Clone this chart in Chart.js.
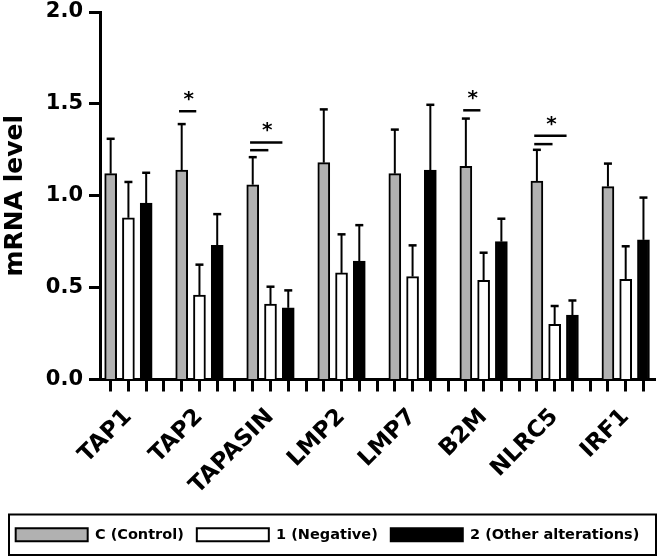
<!DOCTYPE html>
<html><head><meta charset="utf-8">
<script src="https://cdn.jsdelivr.net/npm/chart.js@4"></script>
<style>html,body{margin:0;padding:0;background:#fff}</style>
</head><body>
<canvas id="c" width="661" height="557"></canvas>
<script>
const genes = ['TAP1','TAP2','TAPASIN','LMP2','LMP7','B2M','NLRC5','IRF1'];
const seriesNames = ['C (Control)','1 (Negative)','2 (Other alterations)'];
const control     = [1.12, 1.14, 1.06, 1.18, 1.12, 1.16, 1.08, 1.05];
const controlErr  = [0.19, 0.25, 0.15, 0.29, 0.24, 0.26, 0.17, 0.125];
const negative    = [0.88, 0.46, 0.41, 0.58, 0.56, 0.54, 0.30, 0.545];
const negativeErr = [0.195,0.165,0.095,0.21, 0.17, 0.15, 0.10, 0.18];
const other       = [0.96, 0.73, 0.39, 0.645,1.14, 0.75, 0.35, 0.76];
const otherErr    = [0.165,0.17, 0.095,0.195,0.355,0.125,0.08, 0.23];
const yTicks = [0, 0.5, 1.0, 1.5, 2.0];
// significance brackets (asterisk)
const sigGene  = ['TAP2','TAPASIN','B2M','NLRC5'];
const sigUpper = [1.46, 1.29, 1.465, 1.326];
const sigLower = [null, 1.248, null, 1.281];

const colors = ['#b1b1b1', '#ffffff', '#000000'];
const values = [control, negative, other];
const errs = [controlErr, negativeErr, otherErr];
const SLOTS = 4; // 3 bars + gap per gene
const slot = (g, s) => SLOTS * g + s;

const datasets = values.map((vals, s) => ({
  label: seriesNames[s],
  data: vals.map((v, g) => ({x: slot(g, s), y: v})),
  backgroundColor: colors[s],
  borderColor: '#000',
  borderWidth: 2,
  barThickness: 12,
  grouped: false
}));

const FONT = 'DejaVu Sans';

const errorBars = {
  id: 'errorBars',
  afterDatasetsDraw(chart) {
    const {ctx, scales: {x, y}} = chart;
    ctx.save();
    ctx.strokeStyle = '#000';
    values.forEach((vals, s) => vals.forEach((v, g) => {
      const px = x.getPixelForValue(slot(g, s));
      const y0 = y.getPixelForValue(v);
      const y1 = y.getPixelForValue(v + errs[s][g]);
      ctx.lineWidth = 2;
      ctx.beginPath(); ctx.moveTo(px, y0); ctx.lineTo(px, y1); ctx.stroke();
      ctx.lineWidth = 2.5;
      ctx.beginPath(); ctx.moveTo(px - 4, y1); ctx.lineTo(px + 4, y1); ctx.stroke();
    }));
    ctx.restore();
  }
};

const significance = {
  id: 'significance',
  afterDatasetsDraw(chart) {
    const {ctx, scales: {x, y}} = chart;
    ctx.save();
    ctx.strokeStyle = '#000';
    ctx.fillStyle = '#000';
    ctx.lineWidth = 2.5;
    sigGene.forEach((name, i) => {
      const g = genes.indexOf(name);
      const x0 = x.getPixelForValue(slot(g, 0) - 0.15);
      let topEnd;
      if (sigLower[i] === null) {
        topEnd = x.getPixelForValue(slot(g, 0) + 0.82);
      } else {
        topEnd = x.getPixelForValue(slot(g, 0) + 1.67);
        const yl = y.getPixelForValue(sigLower[i]);
        const xl = x.getPixelForValue(slot(g, 0) + 0.88);
        ctx.beginPath(); ctx.moveTo(x0, yl); ctx.lineTo(xl, yl); ctx.stroke();
      }
      const yu = y.getPixelForValue(sigUpper[i]);
      ctx.beginPath(); ctx.moveTo(x0, yu); ctx.lineTo(topEnd, yu); ctx.stroke();
      ctx.font = 'bold 20px "' + FONT + '"';
      ctx.textAlign = 'center';
      ctx.textBaseline = 'alphabetic';
      ctx.fillText('*', (x0 + topEnd) / 2 + 1, yu - 6);
    });
    ctx.restore();
  }
};

const legendBorder = {
  id: 'legendBorder',
  afterDraw(chart) {
    const l = chart.legend;
    const ctx = chart.ctx;
    ctx.save();
    ctx.strokeStyle = '#000';
    ctx.lineWidth = 2;
    ctx.strokeRect(l.left + 9, l.top, l.right - l.left - 8, l.bottom - l.top + 3);
    ctx.restore();
  }
};

new Chart(document.getElementById('c'), {
  type: 'bar',
  data: {datasets},
  options: {
    responsive: false,
    animation: false,
    layout: {padding: {top: 12, right: 6, bottom: 5, left: 0}},
    plugins: {
      tooltip: {enabled: false},
      legend: {
        position: 'bottom',
        labels: {
          boxWidth: 72, boxHeight: 13, padding: 13, color: '#000',
          font: {family: FONT, weight: 'bold', size: 14.5}
        }
      }
    },
    scales: {
      x: {
        type: 'linear',
        offset: false,
        min: -0.6, max: 30.65,
        afterBuildTicks: s => { s.ticks = Array.from({length: SLOTS * genes.length - 1}, (_, i) => ({value: i})); },
        afterFit: s => { s.height = 135; s.paddingLeft = 0; s.paddingRight = 0; },
        ticks: {
          autoSkip: false, minRotation: 45, maxRotation: 45, padding: 12, color: '#000',
          font: {family: FONT, weight: 'bold', size: 23},
          callback: v => (v % SLOTS === 1 ? genes[(v - 1) / SLOTS] : '')
        },
        grid: {offset: false, drawOnChartArea: false, drawTicks: true, tickLength: 12, tickWidth: 3, tickColor: '#000'},
        border: {color: '#000', width: 3}
      },
      y: {
        min: 0, max: 2,
        afterBuildTicks: s => { s.ticks = yTicks.map(v => ({value: v})); },
        afterFit: s => { s.width = 100; s.paddingTop = 0; s.paddingBottom = 0; },
        ticks: {
          padding: 6, color: '#000',
          font: {family: FONT, weight: 'bold', size: 21},
          callback: v => Number(v).toFixed(1)
        },
        grid: {drawOnChartArea: false, drawTicks: true, tickLength: 11, tickWidth: 3, tickColor: '#000'},
        border: {color: '#000', width: 3},
        title: {
          display: true, text: 'mRNA level', color: '#000',
          font: {family: FONT, weight: 'bold', size: 25},
          padding: {top: 0, bottom: 0}
        }
      }
    }
  },
  plugins: [errorBars, significance, legendBorder]
});
</script>
</body></html>
